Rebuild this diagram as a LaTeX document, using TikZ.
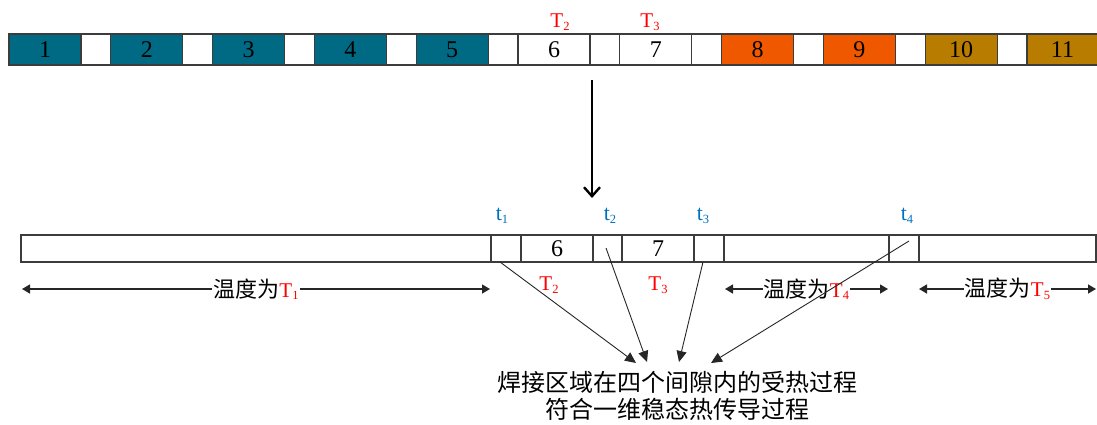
\documentclass[tikz,border=0pt]{standalone}
\usepackage{fontspec}
\setmainfont{Liberation Serif}
\newfontfamily\cjk{Noto Sans CJK SC}
\usetikzlibrary{arrows.meta}
\definecolor{tealc}{RGB}{0,106,132}
\definecolor{orgc}{RGB}{240,88,0}
\definecolor{brnc}{RGB}{184,124,0}
\definecolor{bluc}{RGB}{0,112,192}
\definecolor{edgec}{RGB}{60,60,60}
\newcommand\lab[2]{#1\raisebox{-0.12em}{\fontsize{12.5}{12.5}\selectfont #2}}
\tikzset{
  cellbox/.style={draw=edgec, line width=1.2pt, minimum height=31pt, inner sep=0pt, outer sep=0pt, anchor=north west, font=\fontsize{24}{24}\selectfont},
  lowbox/.style={draw=edgec, line width=1.2pt, minimum height=27pt, inner sep=0pt, outer sep=0pt, anchor=north west, font=\fontsize{24}{24}\selectfont},
  redlab/.style={text=red, font=\fontsize{21}{21}\selectfont, inner sep=0pt},
  blulab/.style={text=bluc, font=\fontsize{22}{22}\selectfont, inner sep=0pt},
  dblarrow/.style={line width=1.4pt, black!85, {Triangle[length=8pt,width=9pt]}-{Triangle[length=8pt,width=9pt]}},
  conv/.style={line width=0.9pt, black!85, -{Triangle[length=11pt,width=10pt]}},
  rangelab/.style={fill=white, inner sep=1pt, text=black, font=\cjk\fontsize{22}{22}\selectfont},
}
\begin{document}
\begin{tikzpicture}[x=1pt,y=-1pt]
\useasboundingbox (0,0) rectangle (1097,424);
% top bar
\foreach \i/\c in {1/tealc,2/tealc,3/tealc,4/tealc,5/tealc,6/white,7/white,8/orgc,9/orgc,10/brnc}{
  \pgfmathsetmacro\xs{9+101.8*(\i-1)}
  \node[cellbox, fill=\c, minimum width=72pt] (c\i) at (\xs,34) {\i};
  \pgfmathsetmacro\xg{\xs+72}
  \node[cellbox, fill=white, minimum width=29.8pt] (g\i) at (\xg,34) {};
}
\node[cellbox, fill=brnc, minimum width=71pt] (c11) at (1027,34) {11};
\node[redlab] (T2top) at (560,22) {\lab{T}{2}};
\node[redlab] (T3top) at (650,22) {\lab{T}{3}};
% down arrow
\coordinate (dA) at (592,80);
\coordinate (dB) at (592,198);
\draw[line width=2.6pt, -{Straight Barb[length=9pt,width=16pt,line width=2.4pt]}] (dA) -- (dB);
% bottom bar
\node[lowbox, minimum width=470pt] (b0) at (21,235) {};
\node[lowbox, minimum width=30pt] (b1) at (491,235) {};
\node[lowbox, minimum width=72pt] (b2) at (521,235) {6};
\node[lowbox, minimum width=29pt] (b3) at (593,235) {};
\node[lowbox, minimum width=72pt] (b4) at (622,235) {7};
\node[lowbox, minimum width=30pt] (b5) at (694,235) {};
\node[lowbox, minimum width=165pt] (b6) at (724,235) {};
\node[lowbox, minimum width=30pt] (b7) at (889,235) {};
\node[lowbox, minimum width=177pt] (b8) at (919,235) {};
% t labels
\node[blulab] (t1) at (502,216) {\lab{t}{1}};
\node[blulab] (t2) at (610,216) {\lab{t}{2}};
\node[blulab] (t3) at (703,216) {\lab{t}{3}};
\node[blulab] (t4) at (907,216) {\lab{t}{4}};
% red labels below
\node[redlab] (T2b) at (549,285) {\lab{T}{2}};
\node[redlab] (T3b) at (658,285) {\lab{T}{3}};
% range arrows
\coordinate (r1a) at (22,289);  \coordinate (r1b) at (490,289);
\coordinate (r2a) at (725,289); \coordinate (r2b) at (888,289);
\coordinate (r3a) at (919,289); \coordinate (r3b) at (1096,289);
\draw[dblarrow] (r1a) -- node[rangelab] (L1) {温度为\textcolor{red}{\rmfamily\fontsize{21}{21}\selectfont\lab{T}{1}}} (r1b);
\draw[dblarrow] (r2a) -- node[rangelab] (L2) {温度为\textcolor{red}{\rmfamily\fontsize{21}{21}\selectfont\lab{T}{4}}} (r2b);
\draw[dblarrow] (r3a) -- node[rangelab] (L3) {温度为\textcolor{red}{\rmfamily\fontsize{21}{21}\selectfont\lab{T}{5}}} (r3b);
% bottom text
\node[font=\cjk\fontsize{24}{27}\selectfont, align=center, inner sep=0pt] (txt) at (677,396) {焊接区域在四个间隙内的受热过程\\符合一维稳态热传导过程};
% converging arrows
\coordinate (s1) at (500,262);
\coordinate (s2) at (606,248);
\coordinate (s3) at (703,262);
\coordinate (s4) at (909,241);
\coordinate (e1) at (636,363);
\coordinate (e2) at (647,362);
\coordinate (e3) at (679,362);
\coordinate (e4) at (711,363);
\draw[conv] (s1) -- (e1);
\draw[conv] (s2) -- (e2);
\draw[conv] (s3) -- (e3);
\draw[conv] (s4) -- (e4);
\end{tikzpicture}
\end{document}
